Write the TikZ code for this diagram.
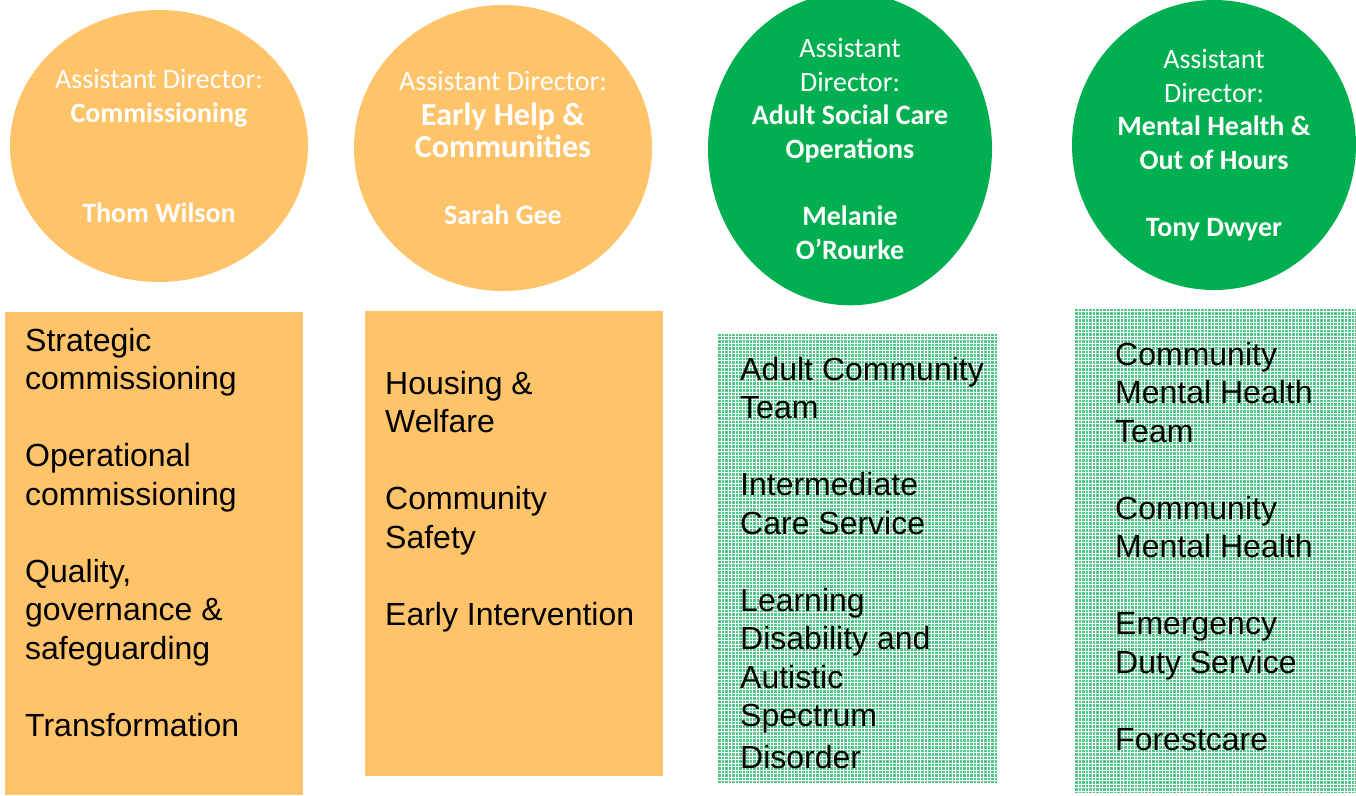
\documentclass[tikz,border=0pt]{standalone}
\usepackage{fontspec}
\usetikzlibrary{positioning,shapes.geometric}

\newfontfamily\headfont{Carlito}
\newfontfamily\listfont{Liberation Sans}

\definecolor{amber}{HTML}{FFC36A}
\definecolor{leaf}{HTML}{00B050}
\definecolor{mint}{HTML}{52C485}

\tikzstyle{head} = [ellipse,inner sep=0pt,text=white,align=center,font=\headfont\fontsize{28}{33.6}\selectfont]
\tikzstyle{amberhead} = [head,fill=amber]
\tikzstyle{leafhead} = [head,fill=leaf]
\tikzstyle{panel} = [rectangle,inner sep=0pt,anchor=north west]
\tikzstyle{amberpanel} = [panel,fill=amber]
\tikzstyle{mintpanel} = [panel,fill=mint]
\tikzstyle{items} = [inner sep=0pt,anchor=north west,align=left,font=\listfont\fontsize{32}{38.5}\selectfont]

\begin{document}
\begin{tikzpicture}[x=1pt,y=-1pt]

	\useasboundingbox (0,0) rectangle (1356,795);

	% directors
	\node (c1) [amberhead,minimum width=298pt,minimum height=272pt] at (159,146)
		{Assistant Director:\\\textbf{Commissioning}\\[67pt]\textbf{Thom Wilson}};
	\node (c2) [amberhead,minimum width=298pt,minimum height=286pt] at (503,148)
		{Assistant Director:\\[2pt]{\fontsize{32}{32}\selectfont\bfseries Early Help \&}\\[-2pt]%
		{\fontsize{32}{32}\selectfont\bfseries Communities}\\[34pt]\textbf{Sarah Gee}};
	\node (c3) [leafhead,minimum width=284pt,minimum height=294pt] at (850,149)
		{Assistant\\Director:\\\textbf{Adult Social Care}\\\textbf{Operations}\\[33.6pt]%
		\textbf{Melanie}\\\textbf{O’Rourke}};
	\node (c4) [leafhead,minimum width=284pt,minimum height=290pt] at (1214,145)
		{Assistant\\Director:\\\textbf{Mental Health \&}\\\textbf{Out of Hours}\\[33.6pt]%
		\textbf{Tony Dwyer}};

	% service panels
	\node (p1) [amberpanel,minimum width=298pt,minimum height=483pt] at (5,312) {};
	\node (p2) [amberpanel,minimum width=298pt,minimum height=465pt] at (365,311) {};
	\node (p3) [mintpanel,minimum width=280pt,minimum height=449pt] at (717,334) {};
	\node (p4) [mintpanel,minimum width=282pt,minimum height=484pt] at (1074,309) {};

	\draw[white,line width=1pt,step=3.5pt] (p3.south west) grid (p3.north east);
	\draw[white,line width=1pt,step=3.5pt] (p4.south west) grid (p4.north east);

	\node (l1) [items,below right=16pt and 20pt of p1.north west]
		{Strategic\\commissioning\\[38.5pt]Operational\\commissioning\\[38.5pt]%
		Quality,\\governance \&\\safeguarding\\[38.5pt]Transformation};
	\node (l2) [items,below right=60pt and 20pt of p2.north west]
		{Housing \&\\Welfare\\[38.5pt]Community\\Safety\\[38.5pt]Early Intervention};
	\node (l3) [items,below right=23pt and 23pt of p3.north west]
		{Adult Community\\Team\\[38.5pt]Intermediate\\Care Service\\[38.5pt]%
		Learning\\Disability and\\Autistic\\Spectrum\\[3pt]Disorder};
	\node (l4) [items,below right=33pt and 41pt of p4.north west]
		{Community\\Mental Health\\Team\\[38.5pt]Community\\Mental Health\\[38.5pt]%
		Emergency\\Duty Service\\[38.5pt]Forestcare};

\end{tikzpicture}
\end{document}
